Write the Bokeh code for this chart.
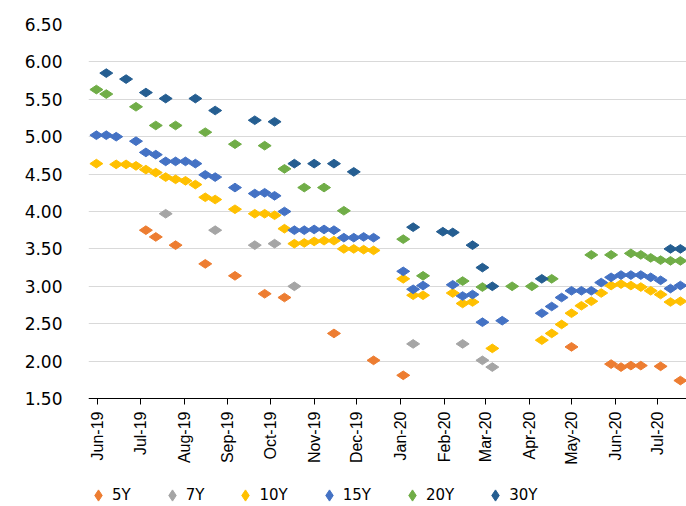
import math
from datetime import datetime, timedelta
import pandas as pd
from bokeh.plotting import figure
from bokeh.models import (FixedTicker, NumeralTickFormatter, MonthsTicker,
                          DatetimeTickFormatter, Legend, LegendItem, Range1d)
from bokeh.embed import file_html
from bokeh.resources import INLINE

dates_5y = ["2019-07-05", "2019-07-12", "2019-07-26", "2019-08-16", "2019-09-06",
            "2019-09-27", "2019-10-11", "2019-11-15", "2019-12-13", "2020-01-03",
            "2020-05-01", "2020-05-29", "2020-06-05", "2020-06-12", "2020-06-19",
            "2020-07-03", "2020-07-17"]
vals_5y = [3.75, 3.66, 3.55, 3.30, 3.14, 2.90, 2.85, 2.37, 2.01, 1.81,
           2.19, 1.96, 1.92, 1.94, 1.94, 1.93, 1.74]

dates_7y = ["2019-07-19", "2019-08-23", "2019-09-20", "2019-10-04", "2019-10-18",
            "2020-01-10", "2020-02-14", "2020-02-28", "2020-03-06"]
vals_7y = [3.97, 3.75, 3.55, 3.57, 3.00, 2.23, 2.23, 2.01, 1.92]

dates_10y = ["2019-05-31", "2019-06-14", "2019-06-21", "2019-06-28", "2019-07-05",
             "2019-07-12", "2019-07-19", "2019-07-26", "2019-08-02", "2019-08-09",
             "2019-08-16", "2019-08-23", "2019-09-06", "2019-09-20", "2019-09-27",
             "2019-10-04", "2019-10-11", "2019-10-18", "2019-10-25", "2019-11-01",
             "2019-11-08", "2019-11-15", "2019-11-22", "2019-11-29", "2019-12-06",
             "2019-12-13", "2020-01-03", "2020-01-10", "2020-01-17", "2020-02-07",
             "2020-02-14", "2020-02-21", "2020-03-06", "2020-04-10", "2020-04-17",
             "2020-04-24", "2020-05-01", "2020-05-08", "2020-05-15", "2020-05-22",
             "2020-05-29", "2020-06-05", "2020-06-12", "2020-06-19", "2020-06-26",
             "2020-07-03", "2020-07-10", "2020-07-17"]
vals_10y = [4.64, 4.63, 4.63, 4.61, 4.56, 4.52, 4.46, 4.43, 4.41, 4.36,
            4.19, 4.16, 4.03, 3.97, 3.97, 3.95, 3.77, 3.57, 3.58, 3.60,
            3.61, 3.61, 3.50, 3.50, 3.49, 3.48, 3.10, 2.88, 2.88, 2.91,
            2.77, 2.79, 2.17, 2.28, 2.37, 2.49, 2.64, 2.74, 2.80, 2.91,
            3.01, 3.03, 3.01, 2.99, 2.94, 2.89, 2.79, 2.80]

dates_15y = ["2019-05-31", "2019-06-07", "2019-06-14", "2019-06-28", "2019-07-05",
             "2019-07-12", "2019-07-19", "2019-07-26", "2019-08-02", "2019-08-09",
             "2019-08-16", "2019-08-23", "2019-09-06", "2019-09-20", "2019-09-27",
             "2019-10-04", "2019-10-11", "2019-10-18", "2019-10-25", "2019-11-01",
             "2019-11-08", "2019-11-15", "2019-11-22", "2019-11-29", "2019-12-06",
             "2019-12-13", "2020-01-03", "2020-01-10", "2020-01-17", "2020-02-07",
             "2020-02-14", "2020-02-21", "2020-02-28", "2020-03-13", "2020-04-10",
             "2020-04-17", "2020-04-24", "2020-05-01", "2020-05-08", "2020-05-15",
             "2020-05-22", "2020-05-29", "2020-06-05", "2020-06-12", "2020-06-19",
             "2020-06-26", "2020-07-03", "2020-07-10", "2020-07-17"]
vals_15y = [5.02, 5.02, 5.00, 4.94, 4.79, 4.76, 4.67, 4.67, 4.67, 4.64,
            4.49, 4.46, 4.32, 4.24, 4.25, 4.21, 4.00, 3.75, 3.75, 3.76,
            3.76, 3.75, 3.65, 3.65, 3.66, 3.65, 3.20, 2.96, 3.01, 3.02,
            2.87, 2.89, 2.52, 2.54, 2.64, 2.73, 2.85, 2.94, 2.94, 2.94,
            3.05, 3.12, 3.15, 3.15, 3.15, 3.12, 3.08, 2.97, 3.01]

dates_20y = ["2019-05-31", "2019-06-07", "2019-06-28", "2019-07-12", "2019-07-26",
             "2019-08-16", "2019-09-06", "2019-09-27", "2019-10-11", "2019-10-25",
             "2019-11-08", "2019-11-22", "2020-01-03", "2020-01-17", "2020-02-14",
             "2020-02-28", "2020-03-20", "2020-04-03", "2020-04-17", "2020-05-15",
             "2020-05-29", "2020-06-12", "2020-06-19", "2020-06-26", "2020-07-03",
             "2020-07-10", "2020-07-17"]
vals_20y = [5.63, 5.57, 5.40, 5.15, 5.15, 5.06, 4.90, 4.88, 4.57, 4.32,
            4.32, 4.01, 3.63, 3.14, 3.07, 2.99, 3.00, 3.00, 3.10, 3.42,
            3.42, 3.44, 3.42, 3.38, 3.35, 3.34, 3.34]

dates_30y = ["2019-06-07", "2019-06-21", "2019-07-05", "2019-07-19", "2019-08-09",
             "2019-08-23", "2019-09-20", "2019-10-04", "2019-10-18", "2019-11-01",
             "2019-11-15", "2019-11-29", "2020-01-10", "2020-01-31", "2020-02-07",
             "2020-02-21", "2020-02-28", "2020-03-06", "2020-04-10", "2020-07-10",
             "2020-07-17"]
vals_30y = [5.85, 5.77, 5.59, 5.51, 5.51, 5.35, 5.22, 5.20, 4.64, 4.64,
            4.64, 4.53, 3.79, 3.73, 3.72, 3.55, 3.25, 3.00, 3.10, 3.50,
            3.50]

series_names = ["5Y", "7Y", "10Y", "15Y", "20Y", "30Y"]
series_colors = ["#ED7D31", "#A5A5A5", "#FFC000", "#4472C4", "#70AD47", "#255E91"]
series_dates = [dates_5y, dates_7y, dates_10y, dates_15y, dates_20y, dates_30y]
series_vals = [vals_5y, vals_7y, vals_10y, vals_15y, vals_20y, vals_30y]

y_ticks = [1.5, 2.0, 2.5, 3.0, 3.5, 4.0, 4.5, 5.0, 5.5, 6.0, 6.5]
y_axis_floor = 1.5   # value where the date axis crosses

# ---------------- figure ----------------
x_start = datetime(2019, 5, 25, 10, 0)
x_end = x_start + timedelta(days=422.9)
# frame runs to the bottom edge; 1.50 sits 108 px above it (74.8 px per unit)
y_start = y_axis_floor - 108 / 74.8

p = figure(width=686, height=506, x_axis_type="datetime",
           output_backend="svg", toolbar_location=None,
           x_range=Range1d(x_start, x_end), y_range=Range1d(y_start, 6.5),
           min_border_left=88, min_border_right=0,
           min_border_top=24, min_border_bottom=0)
p.outline_line_color = None
p.background_fill_color = "white"
p.border_fill_color = "white"

renderers = []
for name, col, ds, vs in zip(series_names, series_colors, series_dates, series_vals):
    r = p.scatter(x=pd.to_datetime(ds), y=vs, marker="diamond", size=13,
                  angle=math.pi / 2, fill_color=col, line_color=col, line_width=1)
    renderers.append((name, r))

# y axis
p.yaxis.ticker = FixedTicker(ticks=y_ticks)
p.yaxis.formatter = NumeralTickFormatter(format="0.00")
p.yaxis.axis_line_color = None
p.yaxis.major_tick_line_color = None
p.yaxis.minor_tick_line_color = None
p.yaxis.major_tick_out = 0
p.yaxis.major_tick_in = 0
p.yaxis.major_label_standoff = 26
p.yaxis.major_label_text_font = "DejaVu Sans"
p.yaxis.major_label_text_font_size = "17px"
p.yaxis.major_label_text_color = "#000000"

# x axis (crosses at 1.50)
p.xaxis.fixed_location = y_axis_floor
p.xaxis.ticker = MonthsTicker(months=list(range(12)))
fmt = "%b-%y"
p.xaxis.formatter = DatetimeTickFormatter(days=fmt, months=fmt, years=fmt,
                                          hours=fmt, minutes=fmt, seconds=fmt)
p.xaxis.major_label_orientation = math.pi / 2
p.xaxis.axis_line_color = "#000000"
p.xaxis.axis_line_width = 1.2
p.xaxis.major_tick_line_color = "#000000"
p.xaxis.major_tick_out = 6
p.xaxis.major_tick_in = 0
p.xaxis.minor_tick_line_color = None
p.xaxis.major_label_standoff = 7
p.xaxis.major_label_text_font = "Liberation Sans"
p.xaxis.major_label_text_font_size = "16px"
p.xaxis.major_label_text_color = "#000000"

p.xgrid.grid_line_color = None
p.ygrid.grid_line_color = "#D9D9D9"
p.ygrid.grid_line_width = 1

legend = Legend(items=[LegendItem(label=n, renderers=[r]) for n, r in renderers],
                orientation="horizontal", location=(-4, -3),
                padding=0, margin=0, spacing=27,
                glyph_width=28, glyph_height=28, label_standoff=0,
                label_width=0,
                border_line_color=None, background_fill_alpha=0,
                label_text_font="DejaVu Sans", label_text_font_size="15px",
                label_text_color="#000000")
p.add_layout(legend, "center")

open("out.html", "w").write(file_html(p, INLINE))
